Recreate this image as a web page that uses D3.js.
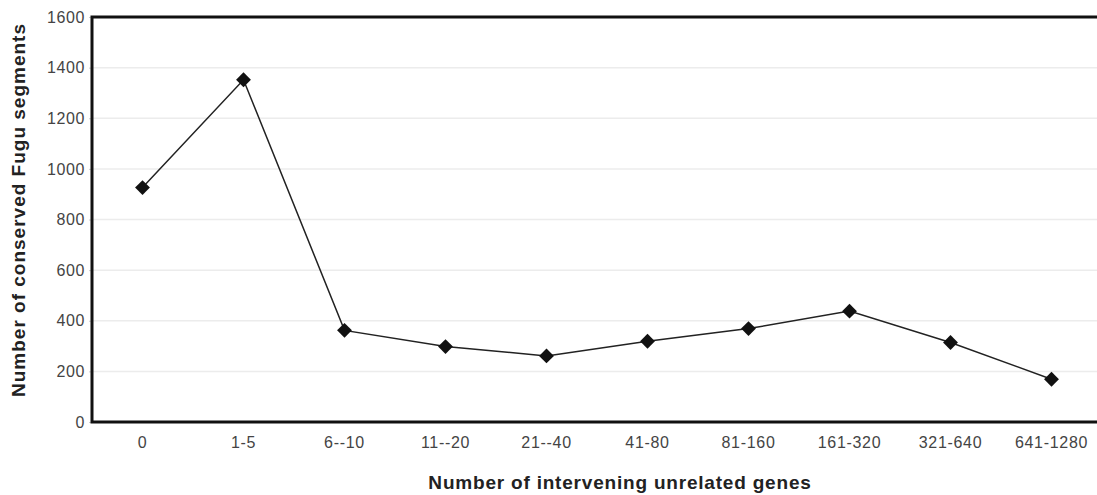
<!DOCTYPE html>
<html>
<head>
<meta charset="utf-8">
<title>Conserved Fugu segments</title>
<script src="https://cdn.jsdelivr.net/npm/d3@7"></script>
<style>
body { margin:0; background:#fff; }
text { font-family: "Liberation Sans", Arial, sans-serif; }
</style>
</head>
<body>
<div id="chart"></div>
<script>
var w = 1097, h = 495;
var margin = {top: 17, left: 92, bottom: 72, right: -5};

var categories = ['0', '1-5', '6--10', '11--20', '21--40', '41-80', '81-160', '161-320', '321-640', '641-1280'];
var segments = [926, 1352, 362, 298, 261, 319, 369, 438, 314, 169];
var yTicks = [0, 200, 400, 600, 800, 1000, 1200, 1400, 1600];

var svg = d3.select('#chart').append('svg')
  .attr('width', w)
  .attr('height', h);

var x = d3.scaleBand()
  .domain(categories)
  .range([margin.left, w - margin.right]);

var y = d3.scaleLinear()
  .domain([0, 1600])
  .range([h - margin.bottom - 1, margin.top]);

// gridlines
svg.append('g')
  .selectAll('line')
  .data(yTicks.slice(1, -1))
  .enter()
  .append('line')
  .attr('x1', margin.left)
  .attr('x2', w)
  .attr('y1', function(d){ return y(d); })
  .attr('y2', function(d){ return y(d); })
  .attr('stroke', '#ececec')
  .attr('stroke-width', 1.5);

// y axis
var yAxis = svg.append('g')
  .attr('transform', 'translate(' + margin.left + ',0)')
  .call(d3.axisLeft(y).tickValues(yTicks).tickFormat(d3.format('d')).tickSize(3).tickPadding(4));
yAxis.select('.domain').remove();
yAxis.selectAll('.tick line').attr('stroke', '#ccc');
yAxis.selectAll('text')
  .attr('font-size', '16px')
  .attr('letter-spacing', '0.6px')
  .attr('fill', '#444');

// x axis
var xAxis = svg.append('g')
  .attr('transform', 'translate(0,' + y(0) + ')')
  .call(d3.axisBottom(x).tickSize(0).tickPadding(15));
xAxis.select('.domain').remove();
xAxis.selectAll('text')
  .attr('font-size', '16px')
  .attr('letter-spacing', '0.7px')
  .attr('fill', '#444');

// frame
svg.append('path')
  .attr('d', 'M' + w + ',' + y(1600) + 'H' + margin.left + 'V' + y(0) + 'H' + w)
  .attr('fill', 'none')
  .attr('stroke', '#111')
  .attr('stroke-width', 3);

// line
var line = d3.line()
  .x(function(d, i){ return x(categories[i]) + x.bandwidth() / 2; })
  .y(function(d){ return y(d); });

svg.append('path')
  .datum(segments)
  .attr('d', line)
  .attr('fill', 'none')
  .attr('stroke', '#222')
  .attr('stroke-width', 1.5);

svg.append('g')
  .selectAll('path')
  .data(segments)
  .enter()
  .append('path')
  .attr('d', d3.symbol().type(d3.symbolSquare).size(110))
  .attr('transform', function(d, i){
    return 'translate(' + (x(categories[i]) + x.bandwidth() / 2) + ',' + y(d) + ') rotate(45)';
  })
  .attr('fill', '#111');

// axis titles
svg.append('text')
  .attr('x', 620)
  .attr('y', 489)
  .attr('text-anchor', 'middle')
  .attr('font-size', '19px')
  .attr('letter-spacing', '0.8px')
  .attr('font-weight', 'bold')
  .attr('fill', '#222')
  .text('Number of intervening unrelated genes');

svg.append('text')
  .attr('transform', 'translate(25,' + 210 + ') rotate(-90)')
  .attr('text-anchor', 'middle')
  .attr('font-size', '19px')
  .attr('letter-spacing', '1px')
  .attr('font-weight', 'bold')
  .attr('fill', '#222')
  .text('Number of conserved Fugu segments');
</script>
</body>
</html>
